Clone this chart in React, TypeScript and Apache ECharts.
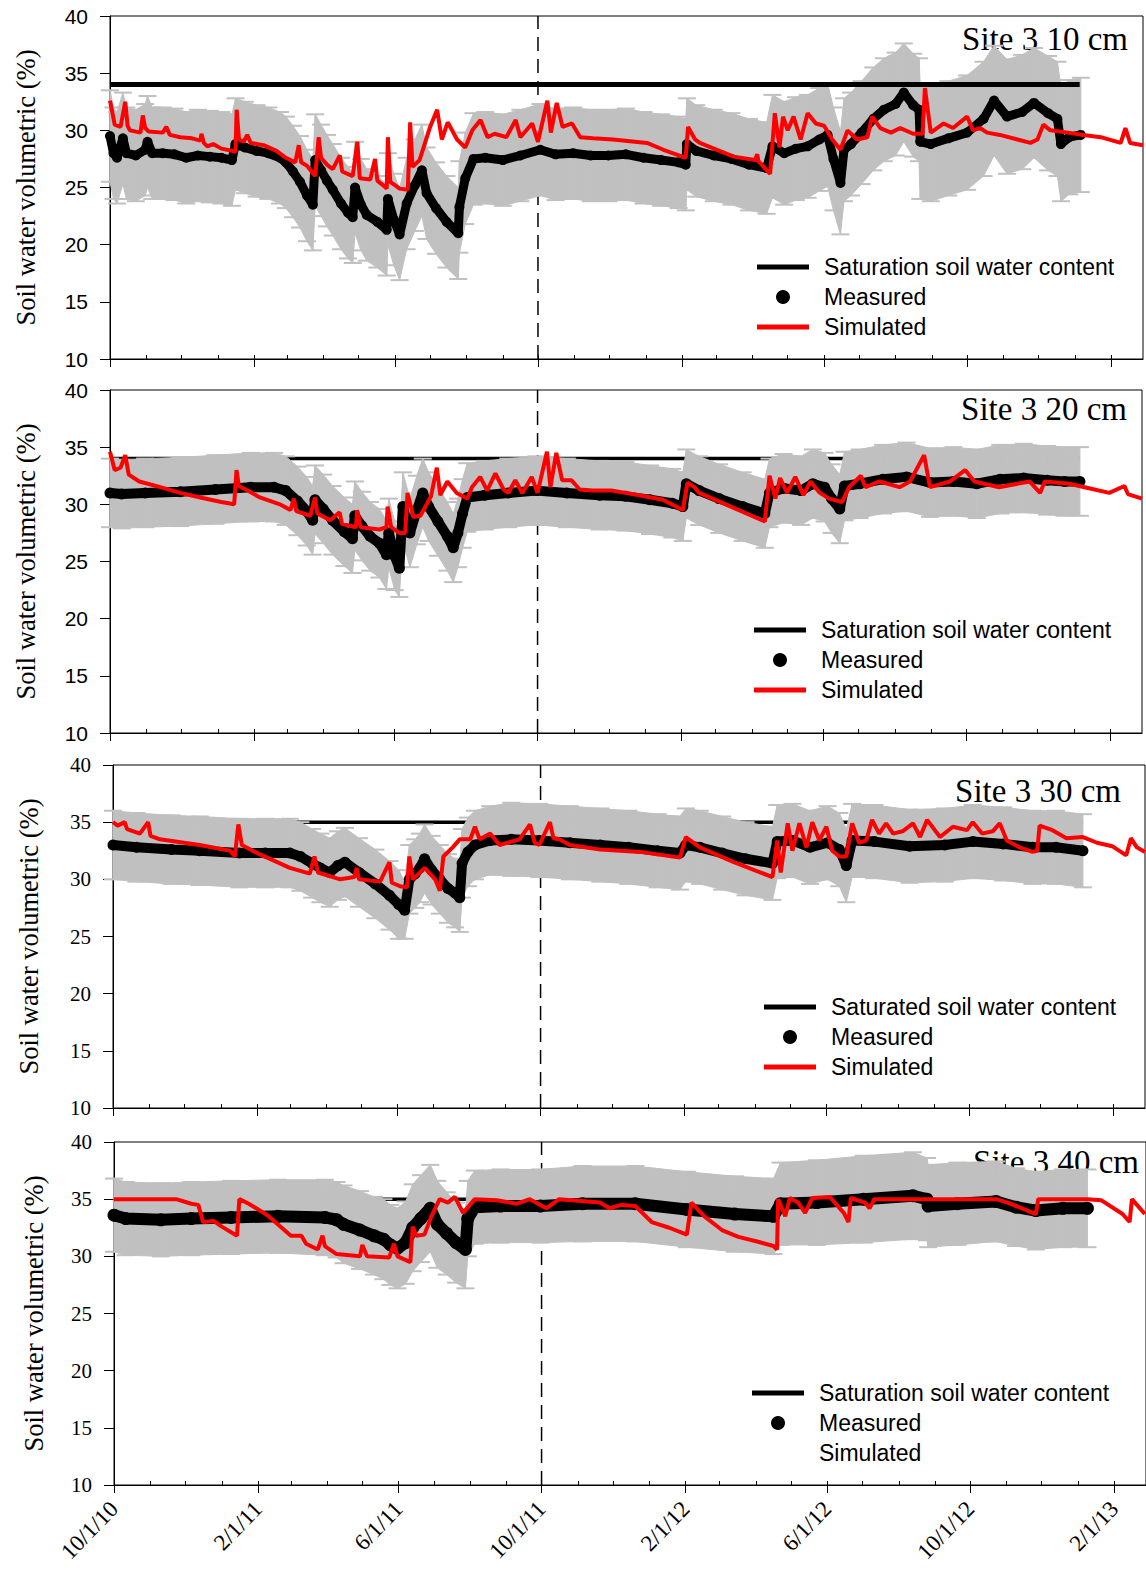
import React, { useEffect, useRef } from "react";
import * as echarts from "echarts";

// ---------- axis / tick data ----------
const START_DATE = "2010-10-01";
const END_DATE = "2013-02-28";
const DIVIDER_DATE = "2011-10-01";
const majorTickDates = ["2010-10-01", "2011-02-01", "2011-06-01", "2011-10-01", "2012-02-01", "2012-06-01", "2012-10-01", "2013-02-01"];
const majorTickLabels = ["10/1/10", "2/1/11", "6/1/11", "10/1/11", "2/1/12", "6/1/12", "10/1/12", "2/1/13"];
const yMin = 10;
const yMax = 40;
const yStep = 5;

const panelTitles = ["Site 3 10 cm", "Site 3 20 cm", "Site 3 30 cm", "Site 3 40 cm"];
const saturationNames = ["Saturation soil water content", "Saturation soil water content", "Saturated soil water content", "Saturation soil water content"];
const saturationValues = [34, 34, 35, 35];
const saturationEndDay = [827, 828, 828, 828];
const yAxisName = "Soil water volumetric (%)";

// ---------- measured: [day since 10/1/10, value %, error %] ----------
const measured10 = [
  [0, 29.5, 4], [3, 28, 4], [6, 27.6, 4], [11, 29.3, 4], [14, 28, 4], [22, 27.8, 4], [30, 28.3, 4], [32, 29, 4], [36, 28, 4], [45, 28, 4],
  [55, 27.9, 4], [65, 27.6, 4], [75, 27.8, 4], [85, 27.7, 4], [95, 27.6, 4], [104, 27.4, 4], [107, 28.8, 4], [115, 28.5, 4], [125, 28.2, 4],
  [135, 28, 4], [145, 27.6, 4], [150, 27.2, 4], [156, 26.4, 4], [162, 25.5, 4], [168, 24.3, 4], [173, 23.5, 4], [175, 27.4, 4], [180, 26.5, 4],
  [185, 25.6, 4], [190, 24.8, 4], [197, 23.6, 4], [203, 22.8, 4], [207, 22.4, 4], [209, 25, 4], [214, 23.5, 4], [219, 22.6, 4], [228, 22, 4],
  [236, 21.3, 4], [237, 24, 4], [242, 22.2, 4], [247, 20.9, 4], [253, 23.6, 4], [260, 25.2, 4], [266, 26.5, 4], [270, 24.5, 4], [278, 23.2, 4],
  [287, 22, 4], [297, 21, 4], [298, 23.3, 4], [303, 25.8, 4], [310, 27.5, 4], [320, 27.6, 4], [335, 27.4, 4], [350, 27.8, 4], [367, 28.3, 4],
  [380, 27.9, 4], [395, 28, 4], [410, 27.8, 4], [425, 27.8, 4], [440, 27.9, 4], [455, 27.6, 4], [470, 27.4, 4], [485, 27.2, 4], [491, 27, 4],
  [492, 28.8, 4], [500, 28.2, 4], [515, 27.8, 4], [530, 27.5, 4], [545, 27, 4], [560, 26.7, 4], [565, 28.6, 4.5], [575, 28, 4.5], [585, 28.4, 4.5],
  [595, 28.6, 4.5], [605, 29.2, 4.5], [612, 29.6, 4.5], [617, 27.5, 4.5], [623, 25.4, 4.5], [626, 28.3, 4.5], [632, 28.8, 4.5], [641, 29.8, 4.5],
  [651, 31, 4.5], [660, 31.8, 4.5], [670, 32.3, 4.5], [677, 33.3, 4.3], [685, 32.2, 4.5], [690, 31.8, 4.5], [691, 29, 5], [700, 28.8, 5], [715, 29.3, 5],
  [731, 29.8, 5], [745, 31, 5], [754, 32.6, 4.8], [765, 31.2, 5], [778, 31.6, 5], [788, 32.4, 4.8], [800, 31.5, 5], [808, 31, 5],
  [811, 28.8, 5], [818, 29.4, 5], [828, 29.6, 5],
];
const measured20 = [
  [0, 31, 3], [10, 30.9, 3], [30, 31, 3], [60, 31.1, 3], [90, 31.3, 3], [120, 31.5, 3], [140, 31.5, 3], [150, 31.2, 3], [160, 30.3, 3],
  [168, 29.4, 3], [173, 28.6, 3], [175, 30.4, 3], [182, 29.6, 3], [190, 28.6, 3], [200, 27.6, 3], [207, 27, 3], [209, 29, 3], [215, 28.1, 3],
  [222, 27.2, 3], [230, 26.6, 3], [236, 25.6, 3], [238, 27.5, 3], [243, 25.5, 3], [247, 24.4, 2.5], [250, 29.8, 3], [256, 27.5, 3], [262, 29.5, 3],
  [267, 31, 3], [272, 29.8, 3], [280, 28.5, 3], [288, 27.2, 3], [293, 26.2, 3], [297, 27.5, 3], [301, 29.2, 3], [305, 30.6, 3], [320, 30.8, 3],
  [340, 31, 3], [364, 31.2, 3], [390, 31, 3], [418, 30.8, 3], [440, 30.7, 3], [461, 30.4, 3], [480, 30.1, 3], [489, 29.8, 3], [492, 31.8, 3],
  [503, 31.2, 3], [520, 30.5, 3], [540, 29.8, 3], [559, 29.2, 3], [563, 31, 3], [575, 31.4, 3], [590, 31.2, 3], [600, 31.8, 3], [610, 31.5, 3],
  [616, 30.5, 3], [623, 29.6, 3], [627, 31.6, 3], [640, 31.8, 3], [660, 32.2, 3], [680, 32.4, 3], [700, 31.9, 3], [720, 32, 3], [740, 31.8, 3],
  [760, 32.2, 3], [780, 32.3, 3], [800, 32.1, 3], [815, 32, 3], [828, 32, 3],
];
const measured30 = [
  [0, 33, 3], [20, 32.8, 3], [50, 32.6, 3], [74, 32.5, 3], [108, 32.3, 3], [130, 32.3, 3], [151, 32.3, 3], [160, 32, 3], [170, 31.4, 3],
  [177, 31, 3], [185, 30.6, 3], [192, 31.2, 3], [198, 31.5, 3], [210, 30.6, 3], [224, 29.6, 3], [236, 28.6, 3], [244, 27.8, 3], [249, 27.3, 2.5],
  [253, 30, 3], [258, 30.5, 3], [262, 31, 3], [266, 31.8, 3], [272, 30.8, 3], [279, 30, 3], [286, 29.2, 3], [292, 28.8, 3], [296, 28.4, 3],
  [298, 31.4, 3], [303, 32.4, 3], [309, 33, 3], [322, 33.4, 3], [340, 33.5, 3.2], [364, 33.4, 3.2], [390, 33.2, 3.2], [416, 33, 3.2],
  [440, 32.8, 3.2], [465, 32.5, 3.2], [484, 32.3, 3.2], [489, 33, 3.2], [501, 32.8, 3.2], [520, 32.3, 3.2], [540, 31.8, 3.2], [563, 31.4, 3.2],
  [567, 33.3, 3.2], [580, 33.4, 3.2], [595, 32.8, 3.2], [610, 33.2, 3.2], [620, 32.6, 3.2], [626, 31.2, 3.2], [631, 33.4, 3.2], [650, 33.3, 3.2],
  [680, 32.9, 3.2], [710, 33, 3.2], [734, 33.3, 3.2], [760, 33.1, 3.2], [785, 32.8, 3.2], [805, 32.8, 3.2], [828, 32.5, 3.2],
];
const measured40 = [
  [0, 33.6, 3.2], [10, 33.3, 3.2], [40, 33.2, 3.2], [66, 33.3, 3.2], [100, 33.4, 3.2], [140, 33.5, 3.2], [180, 33.4, 3.3], [190, 33.2, 3.3],
  [196, 32.8, 3.4], [210, 32.3, 3.4], [222, 31.8, 3.4], [230, 31.5, 3.5], [236, 31, 3.5], [242, 30.7, 3.5], [249, 31.2, 3.6], [255, 32.5, 3.8],
  [262, 33.3, 3.8], [270, 34.2, 3.8], [276, 32.8, 3.8], [284, 32, 3.6], [292, 31.2, 3.5], [300, 30.6, 3.4], [302, 33.3, 3.3], [308, 34.3, 3.2],
  [330, 34.4, 3.2], [364, 34.4, 3.2], [400, 34.6, 3.3], [445, 34.6, 3.3], [489, 34.1, 3.3], [530, 33.7, 3.3], [563, 33.5, 3.3], [569, 34.6, 3.6],
  [600, 34.7, 3.7], [640, 35, 3.8], [682, 35.3, 3.8], [694, 35, 3.6], [695, 34.4, 3.6], [720, 34.6, 3.6], [753, 34.8, 3.5], [770, 34.3, 3.4],
  [787, 34, 3.4], [810, 34.2, 3.4], [831, 34.2, 3.4],
];

// ---------- simulated: [day since 10/1/10, value %] ----------
const simulated10 = [
  [0, 32.6], [4, 30.5], [9, 30.3], [13, 32.5], [15, 30.4], [17, 30], [26, 29.8], [28, 31.3], [30, 30.2], [33, 29.9], [45, 29.8], [48, 30.3],
  [51, 29.6], [60, 29.4], [70, 29.3], [77, 29.1], [78, 29.7], [80, 28.9], [83, 28.6], [88, 28.8], [95, 28.4], [105, 28.2], [107, 28.1],
  [108, 31.8], [110, 29.2], [114, 29], [117, 29.6], [120, 28.9], [131, 28.7], [142, 28.2], [150, 27.6], [158, 27.2], [161, 28.7], [163, 27.2],
  [168, 26.9], [175, 26], [178, 29.4], [180, 27.6], [185, 27], [190, 26.6], [196, 27.8], [198, 26.4], [207, 26], [211, 29], [213, 25.8],
  [222, 25.7], [226, 27.5], [228, 25.6], [234, 25.1], [236, 24.9], [237, 29.4], [239, 25.5], [243, 25.2], [247, 24.9], [254, 24.8], [256, 30.7],
  [258, 26.8], [264, 27.4], [273, 30.3], [279, 31.8], [283, 29.2], [288, 30.7], [296, 29.2], [303, 28.5], [309, 30], [316, 30.9], [322, 29.4],
  [328, 29.7], [338, 29.4], [346, 30.9], [350, 29.4], [360, 30.6], [365, 29], [373, 32.6], [376, 29.8], [381, 32.4], [386, 30.3], [394, 30.6],
  [401, 29.4], [412, 29.3], [429, 29.2], [458, 28.9], [472, 28.3], [491, 27.6], [493, 30.3], [499, 29.2], [503, 28.9], [532, 27.7], [550, 27.4],
  [552, 27.9], [553, 27.3], [563, 26.2], [567, 31.5], [571, 28.5], [574, 31.2], [578, 30], [583, 31.2], [589, 29.2], [595, 31.5], [602, 30.6],
  [609, 30.4], [616, 29.2], [623, 28.3], [629, 30], [637, 29.2], [646, 29.4], [650, 31.2], [657, 30.2], [666, 29.8], [674, 30.2], [685, 29.7],
  [693, 29.7], [695, 33.7], [700, 29.8], [711, 30.6], [719, 30.2], [731, 31.2], [736, 30], [742, 30.2], [748, 29.8], [759, 29.6], [774, 29.2],
  [785, 28.9], [791, 29.2], [796, 30.5], [802, 30], [817, 29.8], [830, 29.6], [845, 29.4], [862, 28.9], [866, 30.2], [870, 28.9], [881, 28.7],
];
const simulated20 = [
  [0, 34.6], [4, 33], [9, 33.2], [13, 34.3], [16, 32.6], [25, 32], [43, 31.5], [60, 31], [77, 30.6], [95, 30.2], [106, 30], [108, 33],
  [110, 31.6], [116, 31.3], [128, 30.6], [145, 30], [154, 29.5], [157, 30.5], [159, 29.4], [171, 29], [175, 30.6], [177, 29.2], [188, 28.6],
  [196, 29.3], [198, 28.3], [210, 28], [211, 29.5], [214, 28], [230, 27.8], [236, 28], [237, 29.8], [240, 28], [247, 27.5], [252, 27.5],
  [254, 31], [259, 28.9], [265, 29], [274, 30.7], [279, 33.2], [282, 30.8], [288, 32], [296, 31], [305, 30.5], [309, 31.5], [316, 32.4],
  [322, 31.2], [329, 32.7], [336, 31.3], [340, 31], [346, 32.1], [352, 31], [360, 32.4], [365, 31], [373, 34.6], [376, 31.5], [381, 34.5],
  [386, 32.1], [394, 32.1], [401, 31.3], [412, 31.2], [429, 31.2], [452, 30.8], [472, 30.4], [489, 29.5], [493, 31.9], [499, 31.5], [503, 31],
  [530, 29.8], [559, 28.5], [563, 32.5], [568, 30.5], [572, 32.3], [578, 31], [585, 32.4], [592, 30.8], [598, 32], [606, 31], [614, 30.5],
  [625, 30.2], [631, 31.5], [641, 32.5], [645, 31.5], [657, 32], [674, 31.5], [683, 32], [695, 34.3], [700, 31.5], [717, 32], [730, 33],
  [738, 32], [759, 31.5], [785, 32], [794, 31], [798, 32], [819, 31.8], [832, 31.5], [853, 31], [866, 31.6], [869, 30.9], [881, 30.5],
];
const simulated30 = [
  [0, 35], [4, 34.7], [10, 35], [12, 34.4], [23, 34], [30, 35], [32, 33.8], [40, 33.5], [74, 33], [100, 32.5], [104, 32], [107, 34.8],
  [110, 33], [125, 32.2], [151, 31], [168, 30.5], [172, 32], [175, 30.6], [194, 30], [206, 30.2], [208, 31], [210, 30], [228, 29.8], [236, 31.5],
  [238, 29.7], [245, 29.4], [251, 29.3], [253, 32], [256, 30], [266, 31], [275, 30], [279, 29], [282, 32], [290, 32.8], [296, 33.5],
  [305, 33.5], [309, 34.6], [313, 33.5], [322, 34], [330, 33], [347, 33.5], [356, 34.8], [360, 33.2], [364, 33], [373, 35], [376, 33.6],
  [381, 33.5], [390, 33], [416, 32.6], [450, 32.4], [484, 31.9], [489, 33.7], [501, 32.8], [530, 31.5], [563, 30.2], [567, 33.4], [570, 30.6],
  [576, 34.9], [580, 32.5], [586, 34.9], [592, 32.8], [597, 35], [603, 33.4], [609, 34.6], [614, 32.5], [620, 32], [626, 32], [631, 34.9],
  [637, 33.2], [643, 33.4], [648, 35.2], [654, 34], [660, 34.9], [666, 34], [674, 34.2], [683, 34.9], [689, 33.7], [695, 35.2], [706, 33.7],
  [717, 34.6], [729, 34.3], [734, 35], [742, 34], [751, 34.2], [757, 34.9], [763, 33.4], [774, 32.8], [785, 32.4], [789, 32.5], [791, 34.7],
  [802, 34.3], [814, 33.6], [828, 33.7], [840, 33.2], [853, 32.9], [865, 32.1], [869, 33.6], [874, 32.8], [881, 32.4],
];
const simulated40 = [
  [0, 35], [53, 35], [66, 34.6], [72, 34.5], [76, 33], [85, 33.1], [92, 32.6], [105, 31.8], [107, 35], [115, 34.6], [131, 33.6], [151, 31.8],
  [160, 31.8], [164, 31.1], [174, 30.6], [178, 31.8], [180, 30.9], [190, 30.2], [210, 30], [212, 31], [216, 30], [235, 29.9], [239, 31.1],
  [242, 30], [253, 29.5], [255, 32.6], [258, 31.8], [265, 31.9], [271, 33.5], [278, 35], [285, 34.7], [291, 35.2], [298, 33.8], [308, 35],
  [327, 34.9], [344, 34.6], [355, 35], [369, 34.2], [380, 35], [415, 34.7], [423, 34.2], [433, 34.5], [445, 34.4], [459, 33], [474, 32.5],
  [489, 31.9], [493, 34.7], [504, 33.5], [519, 32.3], [533, 31.7], [549, 31.3], [563, 30.9], [566, 30.6], [567, 35], [573, 33.5], [577, 35.1],
  [584, 34.7], [590, 33.8], [596, 35.1], [611, 35.2], [623, 33.8], [627, 33], [629, 35.1], [641, 34.7], [645, 34.2], [649, 35], [753, 35],
  [763, 34.7], [787, 33.7], [789, 35], [831, 35], [843, 34.9], [861, 33.7], [867, 33], [869, 35], [880, 33.7],
];

const measuredSets = [measured10, measured20, measured30, measured40];
const simulatedSets = [simulated10, simulated20, simulated30, simulated40];
const showSimulatedLegendLine = [true, true, true, false];

// ---------- layout / style (kept apart from data) ----------
const SANS = "'Liberation Sans', Arial, sans-serif";
const SERIF = "'Liberation Serif', 'Times New Roman', serif";
const GREY = "#c0c0c0";
const RED = "#ff0000";
const LINE_ICON = "path://M0 0H52V5H0Z";

const layouts = [
  { left: 110, top: 16, width: 1033, height: 343, legendLeft: 757, legendTop: 255.5, titleRight: 18, titleTop: 22, nameGap: 71, tickFont: SANS, satWidth: 5, satOver: true, measSize: 10, measWidth: 9 },
  { left: 110, top: 390, width: 1032, height: 343, legendLeft: 754, legendTop: 618.5, titleRight: 19, titleTop: 392, nameGap: 71, tickFont: SANS, satWidth: 3.5, satOver: false, measSize: 11, measWidth: 10 },
  { left: 113, top: 765, width: 1032, height: 343, legendLeft: 764, legendTop: 995.5, titleRight: 25, titleTop: 774, nameGap: 71, tickFont: SERIF, satWidth: 3.5, satOver: false, measSize: 11, measWidth: 10 },
  { left: 114, top: 1142, width: 1032, height: 343, legendLeft: 752, legendTop: 1381.5, titleRight: 7, titleTop: 1145, nameGap: 67, tickFont: SERIF, satWidth: 3.5, satOver: false, measSize: 13, measWidth: 12 },
];

const DAY0 = Date.parse(START_DATE + "T00:00:00Z");
const toDay = (iso: string) => Math.round((Date.parse(iso + "T00:00:00Z") - DAY0) / 86400000);

function monthStartDays(): number[] {
  const out: number[] = [];
  const end = toDay(END_DATE);
  for (let y = 2010; y <= 2013; y++) {
    for (let m = 0; m < 12; m++) {
      const d = Math.round((Date.UTC(y, m, 1) - DAY0) / 86400000);
      if (d >= 0 && d <= end) out.push(d);
    }
  }
  return out;
}

function errorBandRenderer(arr: number[][]) {
  return (params: any, api: any) => {
    const i = params.dataIndex;
    const p = arr[i];
    const q = arr[i + 1];
    const top = api.coord([p[0], p[1] + p[2]]);
    const bot = api.coord([p[0], p[1] - p[2]]);
    const children: any[] = [];
    if (q) {
      const qt = api.coord([q[0], q[1] + q[2]]);
      const qb = api.coord([q[0], q[1] - q[2]]);
      children.push({
        type: "polygon",
        shape: { points: [top, qt, qb, bot] },
        style: { fill: GREY, stroke: GREY, lineWidth: 1 },
      });
    }
    const cap = 9;
    children.push({ type: "line", shape: { x1: top[0] - cap, y1: top[1], x2: top[0] + cap, y2: top[1] }, style: { stroke: GREY, lineWidth: 2 } });
    children.push({ type: "line", shape: { x1: bot[0] - cap, y1: bot[1], x2: bot[0] + cap, y2: bot[1] }, style: { stroke: GREY, lineWidth: 2 } });
    return { type: "group", children };
  };
}

function buildOption() {
  const xMax = toDay(END_DATE);
  const majorDays = majorTickDates.map(toDay);
  const minorDays = monthStartDays();
  const divider = toDay(DIVIDER_DATE);
  const labelFor = (v: number) => {
    const idx = majorDays.indexOf(Math.round(v));
    return idx >= 0 ? majorTickLabels[idx] : "";
  };

  const grid: any[] = [];
  const xAxis: any[] = [];
  const yAxis: any[] = [];
  const series: any[] = [];
  const legend: any[] = [];
  const title: any[] = [];

  layouts.forEach((L, k) => {
    const isLast = k === layouts.length - 1;
    grid.push({ left: L.left, top: L.top, width: L.width, height: L.height, show: true, borderColor: "#000", borderWidth: 1, backgroundColor: "transparent" });
    xAxis.push({
      gridIndex: k, type: "value", min: 0, max: xMax, position: "bottom",
      axisLine: { show: true, onZero: false, lineStyle: { color: "#000", width: 1 } },
      axisTick: { show: true, inside: false, length: 8, customValues: majorDays, lineStyle: { color: "#000", width: 1 } },
      axisLabel: {
        show: isLast, customValues: majorDays, formatter: labelFor, rotate: 46, margin: 20,
        fontFamily: SERIF, fontSize: 23, color: "#000",
      },
      splitLine: { show: false },
    });
    xAxis.push({
      gridIndex: k, type: "value", min: 0, max: xMax, position: "bottom",
      axisLine: { show: false, onZero: false },
      axisTick: { show: true, inside: true, length: 4, customValues: minorDays, lineStyle: { color: "#000", width: 1 } },
      axisLabel: { show: false },
      splitLine: { show: false },
    });
    yAxis.push({
      gridIndex: k, type: "value", min: yMin, max: yMax, interval: yStep,
      axisLine: { show: true, lineStyle: { color: "#000", width: 1 } },
      axisTick: { show: true, inside: false, length: 10, lineStyle: { color: "#000" } },
      axisLabel: { margin: 22, fontSize: 21, fontFamily: L.tickFont, color: "#000" },
      splitLine: { show: false },
      name: yAxisName, nameLocation: "middle", nameRotate: 90, nameGap: L.nameGap,
      nameTextStyle: { fontFamily: SERIF, fontSize: 26.5, color: "#000" },
    });

    const xi = k * 2;
    const meas = measuredSets[k];
    const sim = simulatedSets[k];

    series.push({
      type: "line", name: "divider" + k, xAxisIndex: xi, yAxisIndex: k, z: 1, silent: true,
      data: [[divider, yMin], [divider, yMax]], symbol: "none",
      lineStyle: { color: "#000", width: 1.5, type: [14, 8] },
    });
    series.push({
      type: "line", name: saturationNames[k], xAxisIndex: xi, yAxisIndex: k, z: L.satOver ? 4 : 2, silent: true,
      data: [[0, saturationValues[k]], [saturationEndDay[k], saturationValues[k]]], symbol: "none",
      lineStyle: { color: "#000", width: L.satWidth }, itemStyle: { color: "#000" },
    });
    series.push({
      type: "custom", name: "error" + k, xAxisIndex: xi, yAxisIndex: k, z: 3, silent: true,
      data: meas, encode: { x: 0, y: 1 }, renderItem: errorBandRenderer(meas),
    });
    series.push({
      type: "line", name: "Measured", xAxisIndex: xi, yAxisIndex: k, z: 5, silent: true,
      data: meas.map((d) => [d[0], d[1]]), symbol: "circle", symbolSize: L.measSize, showSymbol: true,
      lineStyle: { color: "#000", width: L.measWidth }, itemStyle: { color: "#000" },
    });
    series.push({
      type: "line", name: "Simulated", xAxisIndex: xi, yAxisIndex: k, z: 6, silent: true,
      data: sim, symbol: "none", lineStyle: { color: RED, width: 4 }, itemStyle: { color: RED },
    });

    legend.push({
      left: L.legendLeft, top: L.legendTop, orient: "vertical", padding: 0,
      itemWidth: 52, itemHeight: 14, itemGap: 7, selectedMode: false,
      textStyle: { fontFamily: SANS, fontSize: 23, lineHeight: 23, color: "#000", padding: [0, 0, 0, 10] },
      data: [
        { name: saturationNames[k], icon: LINE_ICON, itemStyle: { color: "#000", borderWidth: 0 } },
        { name: "Measured", icon: "circle", itemStyle: { color: "#000", borderWidth: 0 } },
        showSimulatedLegendLine[k]
          ? { name: "Simulated", icon: LINE_ICON, itemStyle: { color: RED, borderWidth: 0 } }
          : { name: "Simulated", icon: LINE_ICON, itemStyle: { color: "rgba(0,0,0,0)", borderWidth: 0 } },
      ],
    });

    title.push({
      text: panelTitles[k], right: L.titleRight, top: L.titleTop, padding: 0, z: 0,
      textStyle: { fontFamily: SERIF, fontSize: 33, fontWeight: "normal", color: "#000" },
    });
  });

  return { animation: false, backgroundColor: "#fff", grid, xAxis, yAxis, series, legend, title };
}

export default function App() {
  const ref = useRef<HTMLDivElement>(null);
  useEffect(() => {
    if (!ref.current) return;
    const chart = echarts.init(ref.current, null, { renderer: "svg" });
    chart.setOption(buildOption() as any);
    return () => chart.dispose();
  }, []);
  return <div ref={ref} style={{ position: "absolute", left: 0, top: 0, width: 1146, height: 1570, background: "#fff" }} />;
}
